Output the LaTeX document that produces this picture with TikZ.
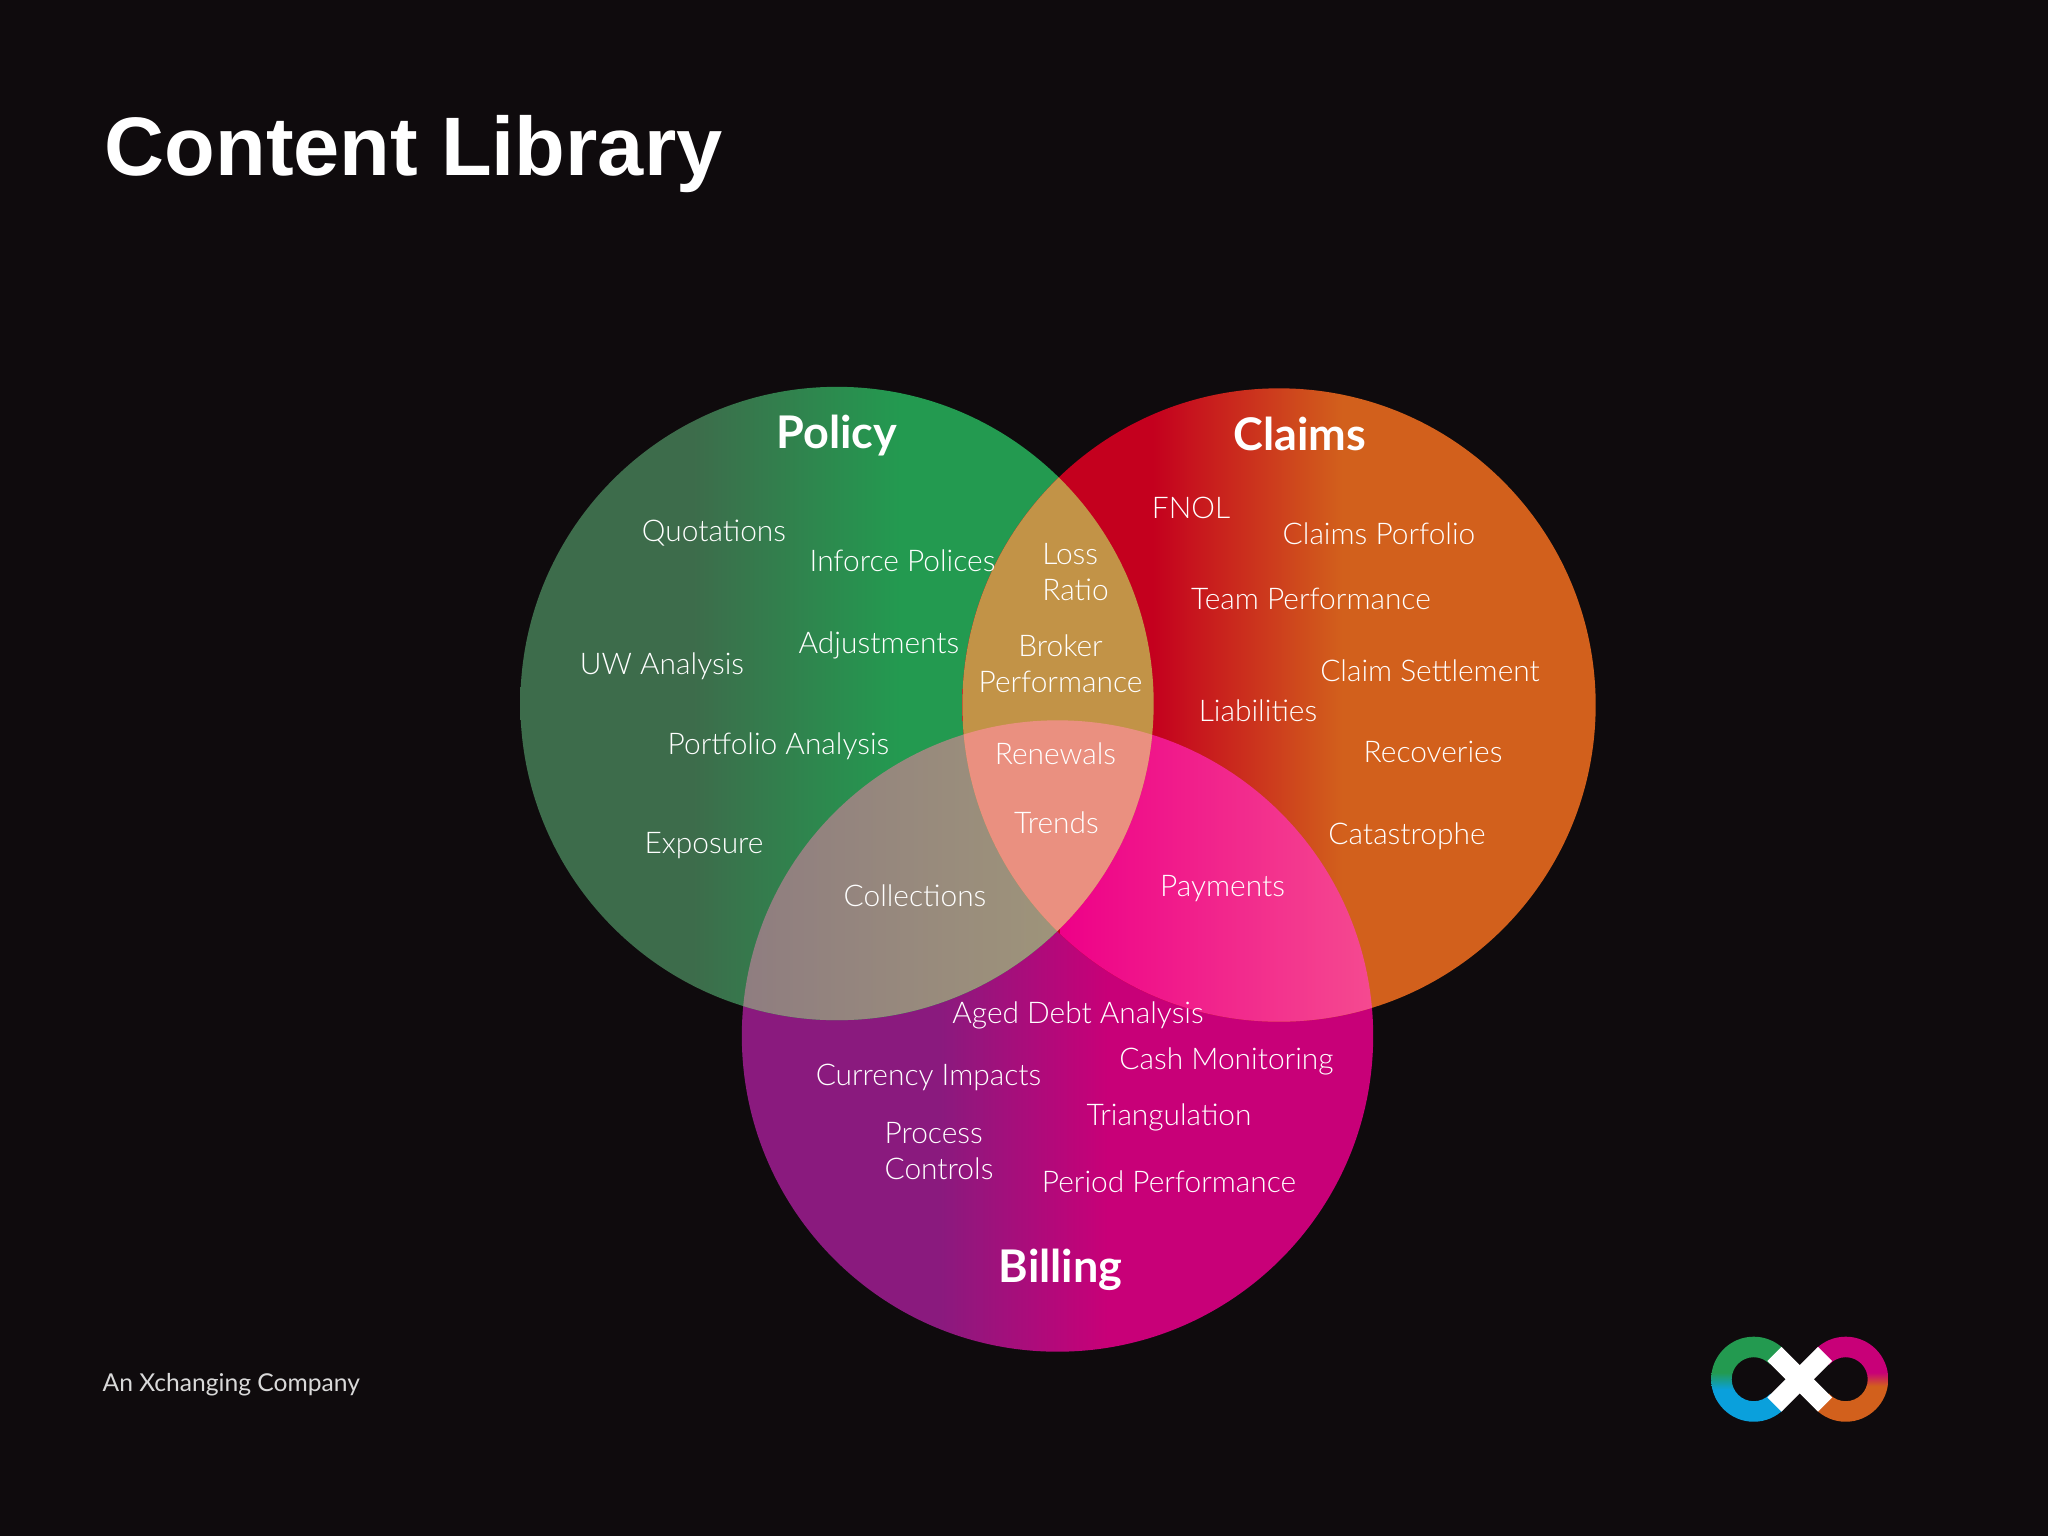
\documentclass[tikz,border=0pt]{standalone}
\usepackage{fontspec}
\setmainfont{Lato}
\newfontfamily\titlefont{Liberation Sans}
\newfontfamily\lightfont{Lato Light}
\definecolor{bgblack}{HTML}{0F0B0D}
\definecolor{greydark}{HTML}{3D6C4B}
\definecolor{greenlite}{HTML}{239A50}
\definecolor{redcol}{HTML}{C4001E}
\definecolor{orangecol}{HTML}{D2601C}
\definecolor{purplecol}{HTML}{8A1A7E}
\definecolor{magentacol}{HTML}{C80078}
\definecolor{goldcol}{HTML}{C29347}
\definecolor{salmoncol}{HTML}{EA9080}
\definecolor{greyleft}{HTML}{8F7D80}
\definecolor{greyright}{HTML}{A39B78}
\definecolor{pinkleft}{HTML}{EE0088}
\definecolor{pinkright}{HTML}{F54A90}
\definecolor{logoblue}{HTML}{0AA0DC}
\pgfdeclarehorizontalshading{policyshade}{100bp}{color(0bp)=(greydark); color(38.6bp)=(greydark); color(55bp)=(greenlite); color(100bp)=(greenlite)}
\pgfdeclarehorizontalshading{claimsshade}{100bp}{color(0bp)=(redcol); color(40bp)=(redcol); color(55bp)=(orangecol); color(100bp)=(orangecol)}
\pgfdeclarehorizontalshading{billingshade}{100bp}{color(0bp)=(purplecol); color(40.7bp)=(purplecol); color(54bp)=(magentacol); color(100bp)=(magentacol)}
\pgfdeclareverticalshading{logoleft}{100bp}{color(0bp)=(logoblue); color(44bp)=(logoblue); color(54bp)=(greenlite); color(100bp)=(greenlite)}
\pgfdeclareverticalshading{logoright}{100bp}{color(0bp)=(orangecol); color(46bp)=(orangecol); color(54bp)=(magentacol); color(100bp)=(magentacol)}
\def\policycircle{(837,703.5) circle [radius=3.165cm]}
\def\claimscircle{(1279,705) circle [radius=3.165cm]}
\def\billingcircle{(1057.5,1036) circle [radius=3.155cm]}
\tikzset{
	lbl/.style={text=white, font=\lightfont\fontsize{8.5pt}{10.2pt}\selectfont, inner sep=0pt},
	head/.style={text=white, font=\fontsize{12.8pt}{15pt}\selectfont\bfseries, inner sep=0pt},
	band/.style={white, line width=0.2cm}
}
\begin{document}
\begin{tikzpicture}[x=0.01cm, y=-0.01cm]
	\fill [bgblack] (0,0) rectangle (2048,1536);
	\useasboundingbox (0,0) rectangle (2048,1536);
	\node [text=white, font=\titlefont\fontsize{23.6pt}{28pt}\selectfont\bfseries, anchor=west, inner sep=0pt] (title) at (104,154) {Content Library};
	% the three circles
	\shade [shading=billingshade] \billingcircle;
	\shade [shading=policyshade] \policycircle;
	\shade [shading=claimsshade] \claimscircle;
	% overlaps
	\begin{scope}
		\clip \policycircle;
		\clip \billingcircle;
		\shade [left color=greyleft, right color=greyright] (741,700) rectangle (1155,1100);
	\end{scope}
	\begin{scope}
		\clip \claimscircle;
		\clip \billingcircle;
		\shade [left color=pinkleft, right color=pinkright] (1060,700) rectangle (1373,1100);
	\end{scope}
	\begin{scope}
		\clip \policycircle;
		\clip \claimscircle;
		\fill [goldcol] (962,400) rectangle (1154,1000);
		\clip \billingcircle;
		\fill [salmoncol] (962,400) rectangle (1154,1000);
	\end{scope}
	% region names
	\node [head] (policy) at (837,436) {Policy};
	\node [head] (claims) at (1300,434) {Claims};
	\node [head] (billing) at (1060.5,1270) {Billing};
	% policy
	\node [lbl] (quotations) at (714,533) {Quotations};
	\node [lbl] (inforce) at (902.5,561) {Inforce Polices};
	\node [lbl] (uwanalysis) at (662,666.5) {UW Analysis};
	\node [lbl] (adjustments) at (879,645.5) {Adjustments};
	\node [lbl] (portfolio) at (778.5,746) {Portfolio Analysis};
	\node [lbl] (exposure) at (704,846) {Exposure};
	\node [lbl] (collections) at (915,896) {Collections};
	% middle
	\node [lbl, align=left] (lossratio) at (1075.5,572) {Loss\\Ratio};
	\node [lbl, align=center] (broker) at (1060.5,663.5) {Broker\\Performance};
	\node [lbl] (renewals) at (1055.5,754) {Renewals};
	\node [lbl] (trends) at (1056.5,823) {Trends};
	% claims
	\node [lbl] (fnol) at (1191,508) {FNOL};
	\node [lbl] (porfolio) at (1379,534) {Claims Porfolio};
	\node [lbl] (team) at (1311,599) {Team Performance};
	\node [lbl] (settlement) at (1430,671) {Claim Settlement};
	\node [lbl] (liabilities) at (1258,711) {Liabilities};
	\node [lbl] (recoveries) at (1433,752) {Recoveries};
	\node [lbl] (catastrophe) at (1407,836) {Catastrophe};
	\node [lbl] (payments) at (1222.5,889) {Payments};
	% billing
	\node [lbl] (aged) at (1078,1015) {Aged Debt Analysis};
	\node [lbl] (cash) at (1226.5,1061) {Cash Monitoring};
	\node [lbl] (currency) at (928.5,1077) {Currency Impacts};
	\node [lbl] (triangulation) at (1169,1117) {Triangulation};
	\node [lbl, align=left] (process) at (939,1151) {Process\\Controls};
	\node [lbl] (period) at (1169,1182) {Period Performance};
	% footer
	\node [text=white!85!black, font=\fontsize{7pt}{8pt}\selectfont, anchor=west, inner sep=0pt] (company) at (102,1385) {An Xchanging Company};
	% logo
	\begin{scope}
		\clip (1700,1320) -- (1807,1320) -- (1758,1379) -- (1807,1438) -- (1700,1438) -- cycle;
		\shade [shading=logoleft, even odd rule] (1753.7,1379.2) circle [radius=0.425cm] (1753.7,1379.2) circle [radius=0.22cm];
	\end{scope}
	\begin{scope}
		\clip (1899,1320) -- (1792,1320) -- (1841,1379) -- (1792,1438) -- (1899,1438) -- cycle;
		\shade [shading=logoright, even odd rule] (1845.7,1379.2) circle [radius=0.425cm] (1845.7,1379.2) circle [radius=0.22cm];
	\end{scope}
	\coordinate (xa) at (1774.4,1353.9);
	\coordinate (xb) at (1825,1404.5);
	\coordinate (xc) at (1825,1353.9);
	\coordinate (xd) at (1774.4,1404.5);
	\draw [band] (xa) -- (xb);
	\draw [band] (xc) -- (xd);
\end{tikzpicture}
\end{document}
